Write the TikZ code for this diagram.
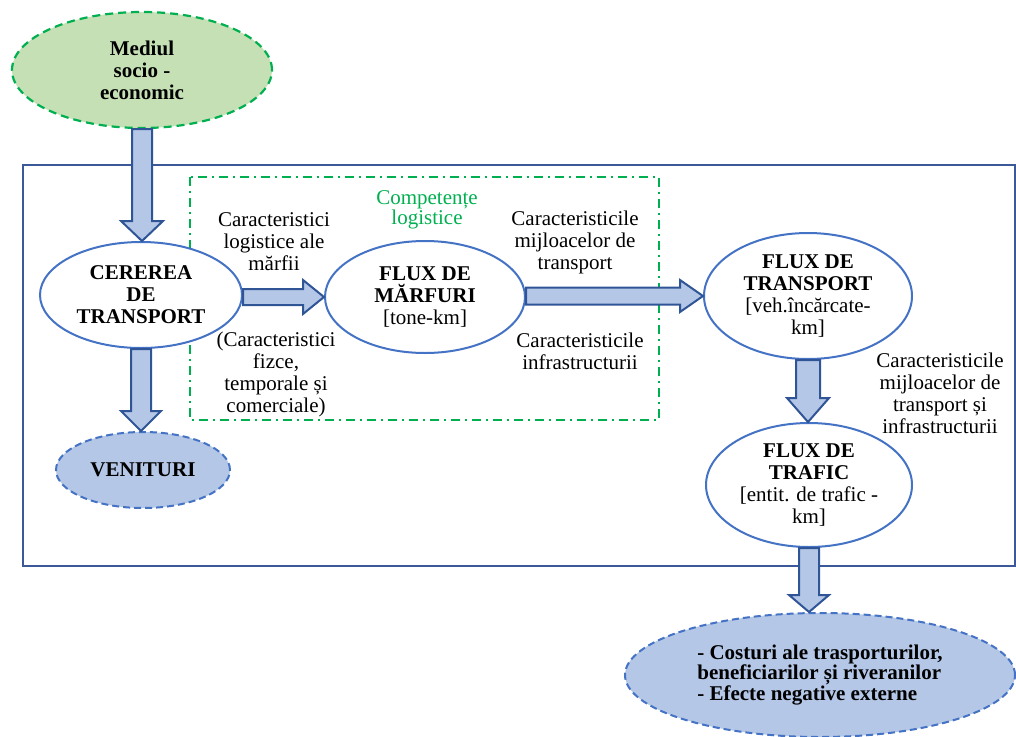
\documentclass[tikz,border=0pt]{standalone}
\usepackage{fontspec}
\setmainfont{Liberation Serif}
\usetikzlibrary{shapes.geometric,calc}

\definecolor{ellblue}{HTML}{4472C4}
\definecolor{arrfill}{HTML}{B4C7E7}
\definecolor{arrline}{HTML}{2F5597}
\definecolor{frameblue}{HTML}{3B5998}
\definecolor{lgreen}{HTML}{C5E0B4}
\definecolor{dgreen}{HTML}{00B050}

% block arrow pointing down: #1 from, #2 to, #3 half shaft, #4 half head, #5 head length
\newcommand{\blkdown}[5]{%
  \draw[blkarrow] let \p1=(#1), \p2=(#2) in
    (\x1-#3pt,\y1) -- (\x1-#3pt,\y2+#5pt) -- (\x1-#4pt,\y2+#5pt) -- (\x1,\y2)
    -- (\x1+#4pt,\y2+#5pt) -- (\x1+#3pt,\y2+#5pt) -- (\x1+#3pt,\y1) -- cycle;}
% block arrow pointing right
\newcommand{\blkright}[5]{%
  \draw[blkarrow] let \p1=(#1), \p2=(#2) in
    (\x1,\y2+#3pt) -- (\x2-#5pt,\y2+#3pt) -- (\x2-#5pt,\y2+#4pt) -- (\x2,\y2)
    -- (\x2-#5pt,\y2-#4pt) -- (\x2-#5pt,\y2-#3pt) -- (\x1,\y2-#3pt) -- cycle;}

\tikzset{
  txt/.style={font=\fontsize{21}{22}\selectfont},
  ell/.style={ellipse, draw=ellblue, line width=2pt, fill=white, inner sep=0pt,
    align=center, font=\fontsize{21}{22}\selectfont\bfseries},
  ellsoft/.style={ell, fill=arrfill, dash pattern=on 7pt off 4pt},
  ellgreen/.style={ell, fill=lgreen, draw=dgreen, line width=2.2pt, dash pattern=on 8pt off 5pt},
  lbl/.style={txt, align=center, inner sep=0pt},
  blkarrow/.style={fill=arrfill, draw=arrline, line width=2pt, line join=miter},
  frame/.style={draw=frameblue, line width=2pt},
  compbox/.style={draw=dgreen, line width=1.8pt, dash pattern=on 9pt off 5pt on 2pt off 5pt},
}

\begin{document}
\begin{tikzpicture}[x=1pt,y=-1pt]
\useasboundingbox (0,0) rectangle (1016,736);

% outer system boundary and logistics area
\draw[frame] (23,165) rectangle (1015,566);
\draw[compbox] (190,177) rectangle (659,420);

% main elements
\node[ellgreen, minimum width=260pt, minimum height=116pt] (mediul) at (142,70) {Mediul\\socio -\\economic};
\node[ell, minimum width=202pt, minimum height=106pt] (cererea) at (141,295) {CEREREA\\DE\\TRANSPORT};
\node[ellsoft, minimum width=174pt, minimum height=76pt] (venituri) at (143,470) {VENITURI};
\node[ell, minimum width=200pt, minimum height=112pt] (marfuri) at (425,297) {FLUX DE\\MĂRFURI\\\mdseries [tone-km]};
\node[ell, minimum width=208pt, minimum height=126pt] (transport) at (808,296) {FLUX DE\\TRANSPORT\\\mdseries [veh.încărcate-\\\mdseries km]};
\node[ell, minimum width=206pt, minimum height=124pt] (trafic) at (809,485) {FLUX DE\\TRAFIC\\\mdseries [entit. de trafic -\\\mdseries km]};
\node[ellsoft, minimum width=390pt, minimum height=124pt, align=left,
      font=\fontsize{21}{20}\selectfont\bfseries] (costuri) at (820,675)
  {- Costuri ale trasporturilor,\\beneficiarilor și riveranilor\\- Efecte negative externe};

% labels
\node[lbl] (l1) at (274,242) {Caracteristici\\logistice ale\\mărfii};
\node[lbl] (l2) at (276,374) {(Caracteristici\\fizce,\\temporale și\\comerciale)};
\node[lbl, text=dgreen, font=\fontsize{21}{20}\selectfont] (l3) at (427,210) {Competențe\\logistice};
\node[lbl] (l4) at (575,242) {Caracteristicile\\mijloacelor de\\transport};
\node[lbl] (l5) at (580,351) {Caracteristicile\\infrastructurii};
\node[lbl] (l6) at (940,393) {Caracteristicile\\mijloacelor de\\transport și\\infrastructurii};

% block arrows
\blkdown{mediul.south}{cererea.north}{10}{21}{20}
\blkdown{cererea.south}{venituri.north}{10}{20}{20}
\blkright{cererea.east}{marfuri.west}{8}{17}{21}
\blkright{marfuri.east}{transport.west}{8.5}{16}{23}
\blkdown{transport.south}{trafic.north}{12}{21}{24}
\blkdown{trafic.south}{costuri.north}{10}{20}{17}
\end{tikzpicture}
\end{document}
